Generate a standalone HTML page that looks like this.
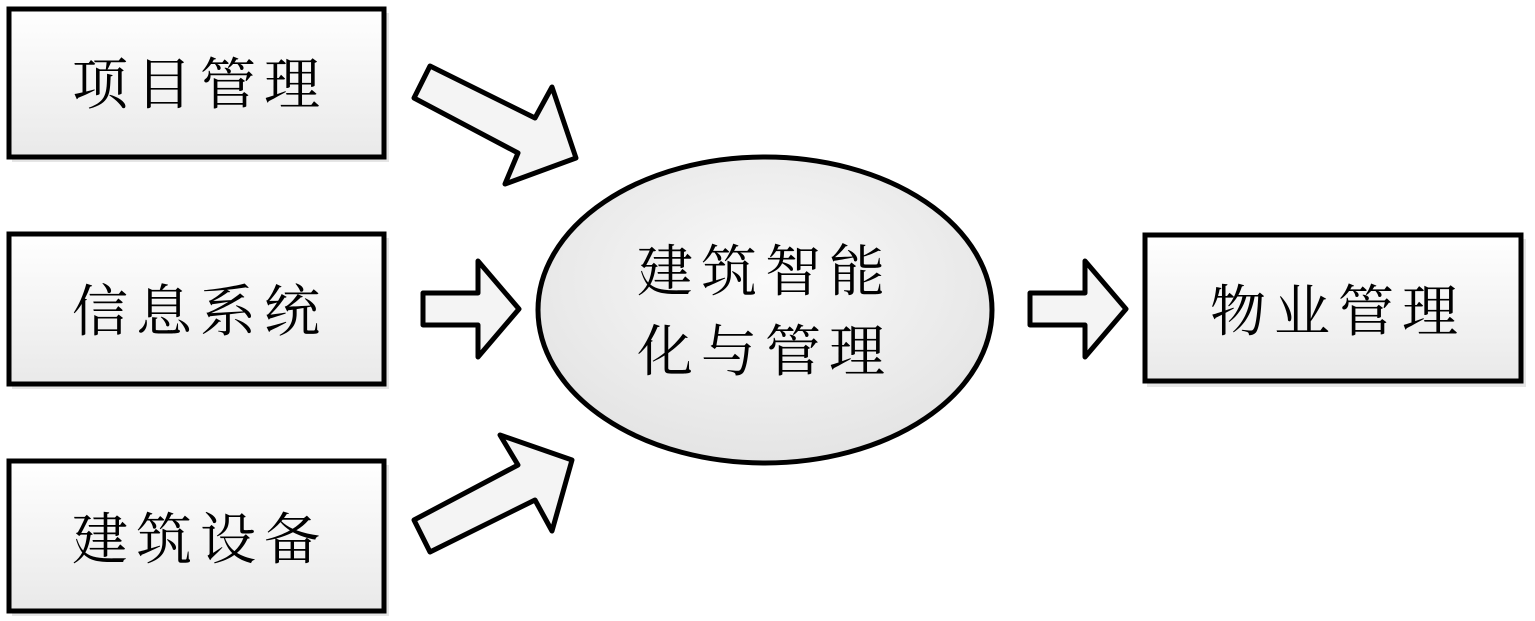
<!DOCTYPE html>
<html><head><meta charset="utf-8"><style>
html,body{margin:0;padding:0;background:#fff;}
svg{display:block}
text{font-family:"Liberation Serif","Noto Serif CJK SC","Noto Serif CJK",serif;font-size:56px;fill:#000;letter-spacing:8px;}
</style></head><body>
<svg width="1535" height="621" viewBox="0 0 1535 621">
<defs>
<linearGradient id="g" x1="0" y1="0" x2="0" y2="1"><stop offset="0" stop-color="#fff"/><stop offset="1" stop-color="#e9e9e9"/></linearGradient>
<radialGradient id="rg" cx="0.5" cy="0.4" r="0.6"><stop offset="0" stop-color="#fafafa"/><stop offset="1" stop-color="#e4e4e4"/></radialGradient>
</defs>
<g fill="#ccc" opacity="0.5">
<rect x="12" y="13" width="377" height="149"/><rect x="12" y="238" width="377" height="151"/><rect x="12" y="465" width="377" height="151"/><rect x="1147" y="239" width="379" height="148"/>
</g>
<g fill="url(#g)" stroke="#000" stroke-width="5">
<rect x="9" y="9" width="375" height="148"/>
<rect x="9" y="234" width="375" height="150"/>
<rect x="9" y="461" width="375" height="150"/>
<rect x="1145" y="235" width="376" height="146"/>
<ellipse cx="765" cy="310" rx="227" ry="153" fill="url(#rg)"/>
<polygon points="430,66 535,118 552,87 576,158 505,184 518,153 414,98" fill="#f4f4f4" stroke-linejoin="round"/>
<polygon points="430,552 535,500 552,531 572,460 500,435 518,465 414,520" fill="#f4f4f4" stroke-linejoin="round"/>
<polygon points="423,293 478,293 478,261 519,309 478,357 478,325 423,325" fill="#f4f4f4" stroke-linejoin="round"/>
<polygon points="1030,293 1085,293 1085,261 1126,309 1085,357 1085,325 1030,325" fill="#f4f4f4" stroke-linejoin="round"/>
</g>
<text x="72" y="104">项目管理</text>
<text x="72" y="331">信息系统</text>
<text x="72" y="559">建筑设备</text>
<text x="1210" y="331">物业管理</text>
<text x="637" y="291">建筑智能</text>
<text x="637" y="371">化与管理</text>
</svg>
</body></html>
